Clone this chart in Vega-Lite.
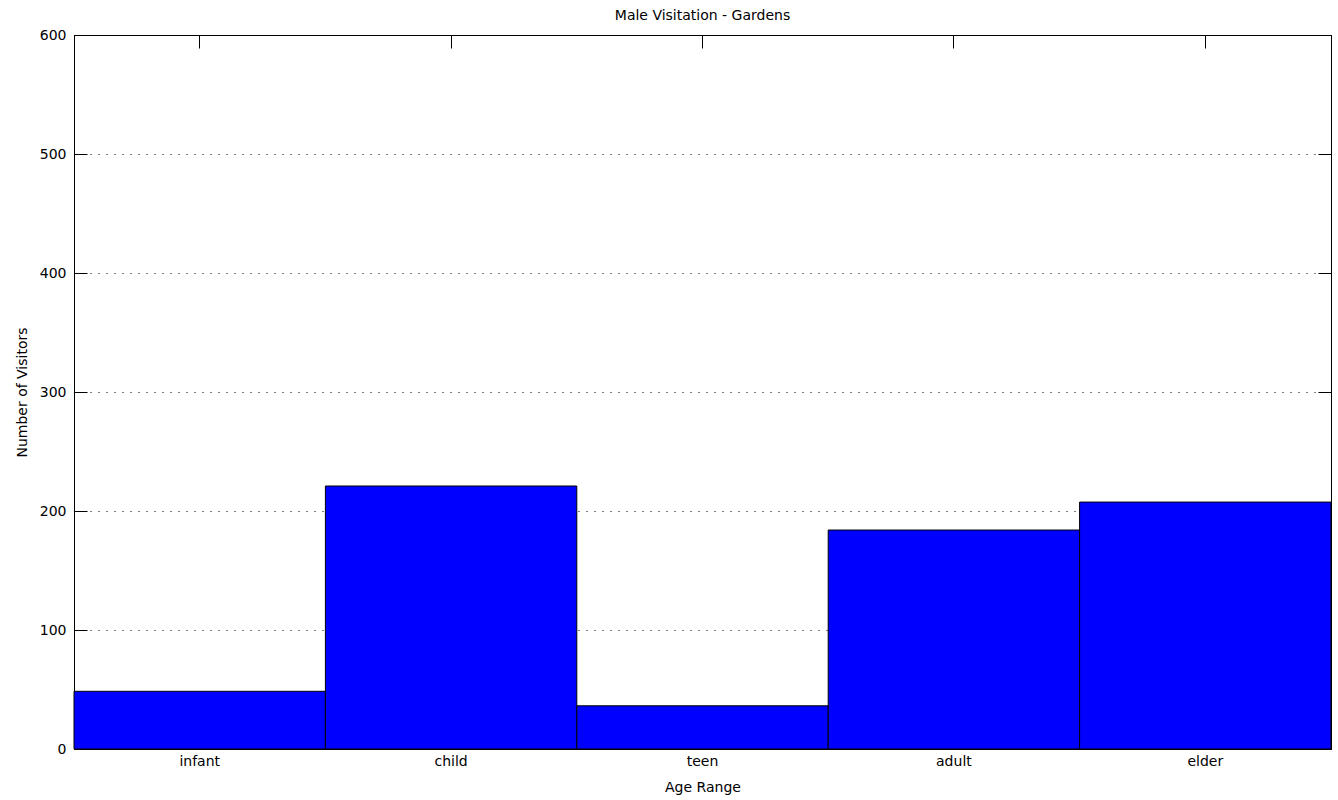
{
  "$schema": "https://vega.github.io/schema/vega-lite/v6.json",
  "width": 1257,
  "height": 714,
  "autosize": {"type": "none"},
  "padding": {"left": 74, "top": 35, "right": 7, "bottom": 51},
  "background": "white",
  "title": {"text": "Male Visitation - Gardens", "font": "DejaVu Sans", "fontSize": 14, "fontWeight": "normal", "color": "black", "offset": 5},
  "config": {
    "view": {"stroke": "black", "strokeWidth": 1},
    "axis": {
      "labelFont": "DejaVu Sans", "titleFont": "DejaVu Sans",
      "labelFontSize": 14, "titleFontSize": 14, "titleFontWeight": "normal",
      "labelColor": "black", "titleColor": "black",
      "domainColor": "black", "tickColor": "black", "tickWidth": 1
    }
  },
  "data": {"values": [
    {"age": "infant", "visitors": 48.5},
    {"age": "child", "visitors": 221},
    {"age": "teen", "visitors": 36.3},
    {"age": "adult", "visitors": 184},
    {"age": "elder", "visitors": 207.5}
  ]},
  "layer": [
    {
      "mark": {"type": "bar", "fill": "#0000FF", "stroke": "black", "strokeWidth": 1},
      "encoding": {
        "x": {"field": "age", "type": "nominal", "sort": null,
              "scale": {"paddingInner": 0, "paddingOuter": 0},
              "axis": {"orient": "bottom", "labelAngle": 0, "title": "Age Range", "tickSize": -12, "labelPadding": 17, "titlePadding": 12}},
        "y": {"field": "visitors", "type": "quantitative",
              "scale": {"domain": [0, 600], "nice": false},
              "axis": {"orient": "left", "values": [0, 100, 200, 300, 400, 500, 600], "grid": true, "gridDash": [1, 7], "gridColor": "black", "gridOpacity": 1,
                       "tickSize": -13, "labelPadding": 21, "title": "Number of Visitors", "titlePadding": 10}}
      }
    },
    {
      "mark": {"type": "bar", "opacity": 0},
      "encoding": {
        "x": {"field": "age", "type": "nominal", "sort": null,
              "scale": {"paddingInner": 0, "paddingOuter": 0},
              "axis": {"orient": "top", "labels": false, "title": null, "tickSize": -13}},
        "y": {"field": "visitors", "type": "quantitative",
              "scale": {"domain": [0, 600], "nice": false},
              "axis": {"orient": "right", "values": [0, 100, 200, 300, 400, 500, 600], "labels": false, "title": null, "tickSize": -13, "grid": false}}
      }
    }
  ],
  "resolve": {"axis": {"x": "independent", "y": "independent"}}
}
